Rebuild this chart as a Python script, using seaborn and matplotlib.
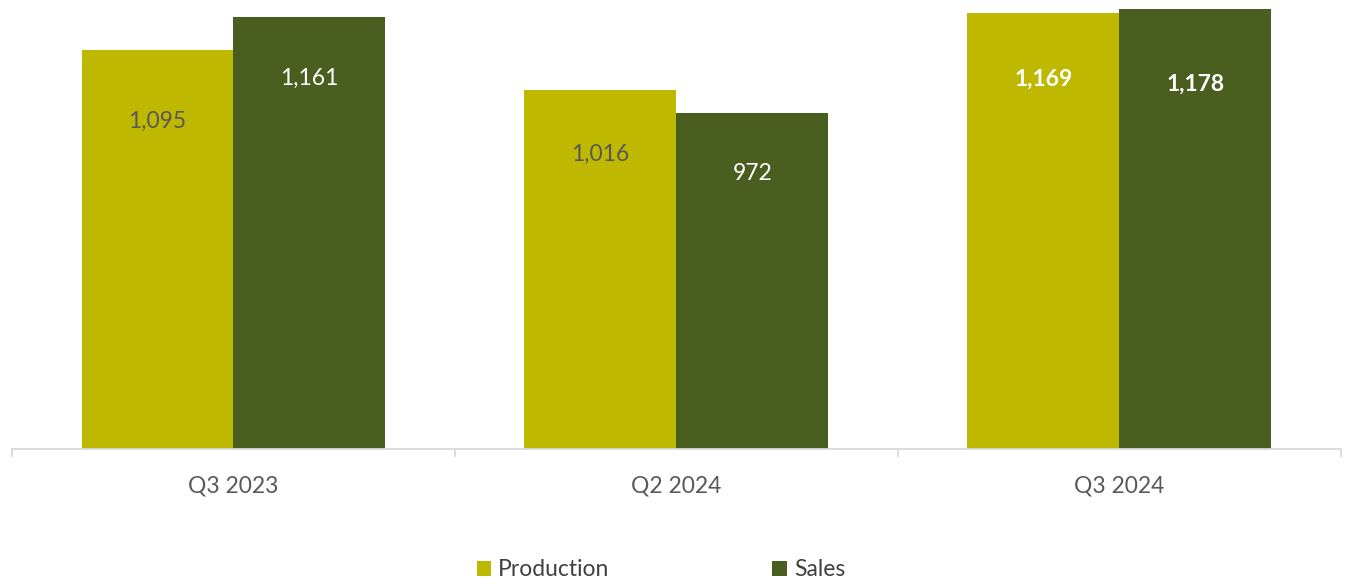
import numpy as np
import pandas as pd
import matplotlib
matplotlib.use("Agg")
import matplotlib.pyplot as plt
import seaborn as sns
from matplotlib.patches import Patch

quarters = ["Q3 2023", "Q2 2024", "Q3 2024"]
production = [1095, 1016, 1169]
sales = [1161, 972, 1178]
series = ["Production", "Sales"]

# label styling / placement (pixels below bar top)
prod_offsets = [71, 64, 66]
sales_offsets = [61, 61, 76]
prod_label_colors = ["#595959", "#595959", "white"]
sales_label_colors = ["white", "white", "white"]
bold_flags = [False, False, True]

colors = {"Production": "#BEB900", "Sales": "#4A5E1F"}

df = pd.DataFrame({
    "Quarter": quarters * 2,
    "Series": ["Production"] * 3 + ["Sales"] * 3,
    "Value": production + sales,
})

sns.set_style("white")
plt.rcParams["font.family"] = ["Lato", "DejaVu Sans"]

fig = plt.figure(figsize=(13.46, 5.78), dpi=100)
ax = fig.add_axes([12 / 1346, 1 - 449 / 578, (1340.7 - 12) / 1346, 449 / 578])

sns.barplot(data=df, x="Quarter", y="Value", hue="Series", order=quarters,
            hue_order=series, palette=colors, width=0.686, linewidth=0,
            saturation=1, legend=False, ax=ax)

ax.set_ylim(305, 1195)
ax.set_xlim(-0.5, 2.5)
ax.set_xlabel("")
ax.set_ylabel("")
ax.set_yticks([])
for s in ["top", "left", "right"]:
    ax.spines[s].set_visible(False)
ax.spines["bottom"].set_color("#D9D9D9")
ax.spines["bottom"].set_linewidth(1.3)

ax.set_xticks(range(len(quarters)))
ax.set_xticklabels(quarters, fontsize=16.5, color="#595959")
ax.tick_params(axis="x", which="major", length=0, pad=19)
ax.set_xticks([-0.5, 0.5, 1.5, 2.5], minor=True)
ax.tick_params(axis="x", which="minor", bottom=True, length=6, width=1.3, color="#D9D9D9")

# value labels
containers = ax.containers
for cont, vals, offs, cols in [(containers[0], production, prod_offsets, prod_label_colors),
                               (containers[1], sales, sales_offsets, sales_label_colors)]:
    for i, (bar, v) in enumerate(zip(cont, vals)):
        x = bar.get_x() + bar.get_width() / 2
        ax.annotate(f"{v:,}", (x, v), xytext=(0, -offs[i] * 0.72),
                    textcoords="offset points", ha="center", va="center",
                    fontsize=16.5, color=cols[i],
                    fontweight="bold" if bold_flags[i] else "normal")

handles = [Patch(facecolor=colors[s], edgecolor="none") for s in series]
fig.legend(handles, series, loc="center", bbox_to_anchor=(661 / 1346, 1 - 570 / 578),
           ncol=2, frameon=False, fontsize=16.5, labelcolor="#404040",
           handlelength=0.65, handleheight=0.65, handletextpad=0.3,
           columnspacing=7.1, borderaxespad=0, borderpad=0)

fig.savefig("out.png", dpi=100)
